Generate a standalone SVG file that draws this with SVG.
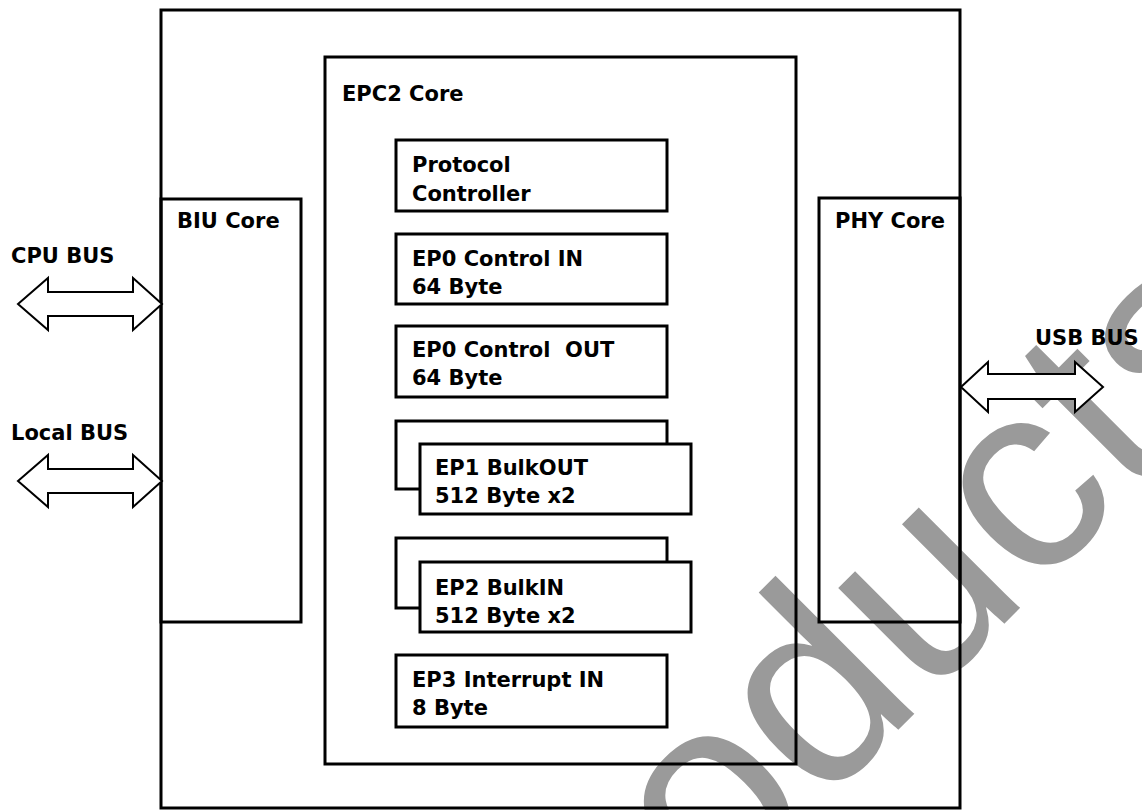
<svg xmlns="http://www.w3.org/2000/svg" width="1142" height="810" viewBox="0 0 1142 810">
<style>
.box{fill:none;stroke:#000;stroke-width:3}
.arr{fill:#fff;stroke:#000;stroke-width:2;stroke-linejoin:miter}
.t{font-family:"DejaVu Sans","Liberation Sans",sans-serif;font-weight:bold;font-size:21px;fill:#000}
.wm{font-family:"Liberation Sans",Arial,sans-serif;font-size:270px;fill:#9a9a9a}
</style>
<rect width="1142" height="810" fill="#fff"/>
<text class="wm" transform="translate(523.4,1104.6) rotate(-45)">Products</text>
<g id="outer"><rect class="box" x="161" y="10" width="799" height="798"/></g>
<g id="biu"><rect class="box" x="161" y="199" width="140" height="423"/><text class="t" x="177" y="228">BIU Core</text></g>
<g id="phy"><rect class="box" x="819" y="198" width="141" height="424"/><text class="t" x="835" y="228">PHY Core</text></g>
<g id="epc2"><rect class="box" x="325" y="57" width="471" height="707"/><text class="t" x="342" y="101">EPC2 Core</text></g>
<g id="protocol"><rect class="box" x="396" y="140" width="271" height="71"/><text class="t" x="412" y="172">Protocol</text><text class="t" x="412" y="201">Controller</text></g>
<g id="ep0in"><rect class="box" x="396" y="234" width="271" height="70"/><text class="t" x="412" y="266">EP0 Control IN</text><text class="t" x="412" y="294">64 Byte</text></g>
<g id="ep0out"><rect class="box" x="396" y="326" width="271" height="71"/><text class="t" x="412" y="357">EP0 Control&#160; OUT</text><text class="t" x="412" y="385">64 Byte</text></g>
<g id="ep1"><polyline class="box" points="420,489 396,489 396,421 667,421 667,444"/><rect class="box" x="420" y="444" width="271" height="70"/><text class="t" x="435" y="475">EP1 BulkOUT</text><text class="t" x="435" y="503">512 Byte x2</text></g>
<g id="ep2"><polyline class="box" points="420,608 396,608 396,538 667,538 667,562"/><rect class="box" x="420" y="562" width="271" height="70"/><text class="t" x="435" y="595">EP2 BulkIN</text><text class="t" x="435" y="623">512 Byte x2</text></g>
<g id="ep3"><rect class="box" x="396" y="655" width="271" height="72"/><text class="t" x="412" y="687">EP3 Interrupt IN</text><text class="t" x="412" y="715">8 Byte</text></g>
<g id="labels"><text class="t" x="11" y="263">CPU BUS</text><text class="t" x="11" y="440">Local BUS</text><text class="t" x="1035" y="345">USB BUS</text></g>
<g id="connectors">
<polygon class="arr" points="18,304 48,278 48,292 133,292 133,278 162,304 133,330 133,316 48,316 48,330"/>
<polygon class="arr" points="18,481 48,455 48,469 133,469 133,455 162,481 133,507 133,493 48,493 48,507"/>
<polygon class="arr" points="961,387 988,362 988,374 1075,374 1075,362 1103,387 1075,412 1075,399 988,399 988,412"/>
</g>
</svg>
